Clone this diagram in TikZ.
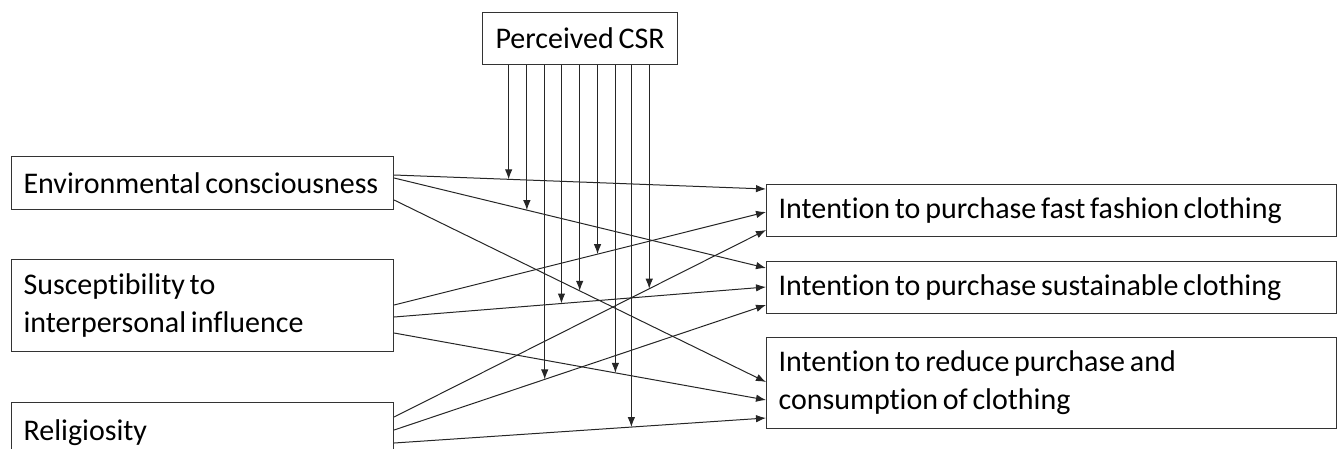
\documentclass[tikz,border=0pt]{standalone}
\usepackage{fontspec}
\setmainfont{Carlito}[WordSpace=0.7, Ligatures=NoCommon]
\usepackage{tikz}
\usetikzlibrary{arrows.meta,calc}

\tikzset{
  box/.style={draw=black!80, line width=1.1pt, anchor=north west, inner xsep=12pt, inner ysep=0pt, align=flush left},
  lbox/.style={box, text width=358pt, minimum height=53pt},
  rbox/.style={box, text width=546pt, minimum height=52pt},
  arr/.style={-{Latex[length=10pt,width=7.5pt]}, line width=1pt, black!85}
}

\begin{document}
\begin{tikzpicture}[x=1pt, y=-1pt, font=\fontsize{30}{38}\selectfont]

        \useasboundingbox (0,0) rectangle (1340,448);

        % moderator
        \node[box, align=center, inner xsep=0pt, minimum width=195pt, minimum height=52pt] (csr) at (482,12) {Perceived CSR};

        % predictors
        \node[lbox] (env) at (11,156) {Environmental consciousness};
        \node[lbox, minimum height=92pt] (sti) at (11,259) {Susceptibility to\\interpersonal influence};
        \node[lbox, minimum height=60pt] (rel) at (11,402) {Religiosity};

        % outcomes
        \node[rbox] (fast) at (766,184) {Intention to purchase fast fashion clothing};
        \node[rbox] (sust) at (766,261) {Intention to purchase sustainable clothing};
        \node[rbox, minimum height=91pt] (redu) at (766,337) {Intention to reduce purchase and\\consumption of clothing};

        % direct paths, each with a point where CSR comes in
        \draw[arr] ([yshift=-19pt]env.north east) -- coordinate[pos=.308] (m1) ([yshift=-5pt]fast.north west);
        \draw[arr] ([yshift=-22pt]env.north east) -- coordinate[pos=.357] (m2) ([yshift=-7pt]sust.north west);
        \draw[arr] ([yshift=-44pt]env.north east) -- coordinate[pos=.499] (m5) ([yshift=-45pt]redu.north west);
        \draw[arr] ([yshift=-46pt]sti.north east) -- coordinate[pos=.547] (m6) ([yshift=-28pt]fast.north west);
        \draw[arr] ([yshift=-58pt]sti.north east) -- coordinate[pos=.450] (m4) ([yshift=-26pt]sust.north west);
        \draw[arr] ([yshift=-74pt]sti.north east) -- coordinate[pos=.595] (m7) ([yshift=-63pt]redu.north west);
        \draw[arr] ([yshift=-15pt]rel.north east) -- coordinate[pos=.686] (m9) ([yshift=-46pt]fast.north west);
        \draw[arr] ([yshift=-28pt]rel.north east) -- coordinate[pos=.405] (m3) ([yshift=-44pt]sust.north west);
        \draw[arr] ([yshift=-41pt]rel.north east) -- coordinate[pos=.638] (m8) ([yshift=-81pt]redu.north west);

        % moderating arrows
        \foreach \m in {m1,m2,m3,m4,m5,m6,m7,m8,m9}
            \draw[arr] (\m |- csr.south) -- (\m);

\end{tikzpicture}
\end{document}
